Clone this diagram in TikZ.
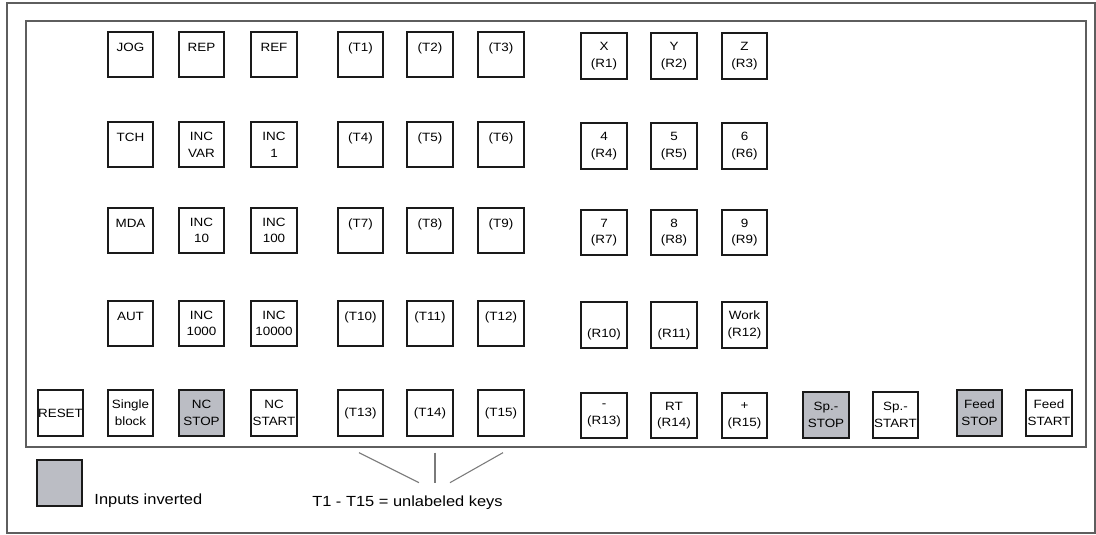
\documentclass[tikz,border=0pt]{standalone}
\usepackage{fontspec}
\setmainfont{Liberation Sans}[FakeStretch=1.12]
\usepackage{tikz}
\usetikzlibrary{calc}
\definecolor{frameline}{HTML}{5E5E5E}
\definecolor{keyline}{HTML}{1A1A1A}
\definecolor{invfill}{HTML}{BBBDC4}
\definecolor{pointline}{HTML}{7A7A7A}
\tikzset{
  keybox/.style={
    rectangle, draw=keyline, line width=1.5pt,
    fill=white, minimum size=34pt, inner sep=0pt,
    align=center, font=\fontsize{9}{12.5}\selectfont
  },
  keyinv/.style={keybox, fill=invfill},
  keyhi/.style={text height=7.5pt, text depth=12.3pt},
  keylo/.style={text height=20.4pt, text depth=2pt},
  notetext/.style={font=\fontsize{11}{13}\selectfont, inner sep=0pt},
  pointer/.style={draw=pointline, line width=0.8pt},
}
\begin{document}
\begin{tikzpicture}[x=0.75pt, y=-0.75pt]
  \useasboundingbox (0,0) rectangle (1096,535);
  \draw[frameline, line width=0.8pt] (7,3) rectangle (1095,533);
  \draw[frameline, line width=1.1pt] (26,21) rectangle (1086,447);

  \node[keybox, keyhi] (jog) at (130.5,54.5) {JOG};
  \node[keybox, keyhi] (rep) at (201.5,54.5) {REP};
  \node[keybox, keyhi] (ref) at (274,54.5) {REF};
  \node[keybox, keyhi] (t1) at (360.5,54.5) {(T1)};
  \node[keybox, keyhi] (t2) at (430,54.5) {(T2)};
  \node[keybox, keyhi] (t3) at (501,54.5) {(T3)};
  \node[keybox] (r1) at (604,56) {X\\(R1)};
  \node[keybox] (r2) at (674,56) {Y\\(R2)};
  \node[keybox] (r3) at (744.5,56) {Z\\(R3)};

  \node[keybox, keyhi] (tch) at (130.5,144.5) {TCH};
  \node[keybox] (incvar) at (201.5,144.5) {INC\\VAR};
  \node[keybox] (inc1) at (274,144.5) {INC\\1};
  \node[keybox, keyhi] (t4) at (360.5,144.5) {(T4)};
  \node[keybox, keyhi] (t5) at (430,144.5) {(T5)};
  \node[keybox, keyhi] (t6) at (501,144.5) {(T6)};
  \node[keybox] (r4) at (604,146) {4\\(R4)};
  \node[keybox] (r5) at (674,146) {5\\(R5)};
  \node[keybox] (r6) at (744.5,146) {6\\(R6)};

  \node[keybox, keyhi] (mda) at (130.5,230.5) {MDA};
  \node[keybox] (inc10) at (201.5,230.5) {INC\\10};
  \node[keybox] (inc100) at (274,230.5) {INC\\100};
  \node[keybox, keyhi] (t7) at (360.5,230.5) {(T7)};
  \node[keybox, keyhi] (t8) at (430,230.5) {(T8)};
  \node[keybox, keyhi] (t9) at (501,230.5) {(T9)};
  \node[keybox] (r7) at (604,232.5) {7\\(R7)};
  \node[keybox] (r8) at (674,232.5) {8\\(R8)};
  \node[keybox] (r9) at (744.5,232.5) {9\\(R9)};

  \node[keybox, keyhi] (aut) at (130.5,323.5) {AUT};
  \node[keybox] (inc1000) at (201.5,323.5) {INC\\1000};
  \node[keybox] (inc10000) at (274,323.5) {INC\\10000};
  \node[keybox, keyhi] (t10) at (360.5,323.5) {(T10)};
  \node[keybox, keyhi] (t11) at (430,323.5) {(T11)};
  \node[keybox, keyhi] (t12) at (501,323.5) {(T12)};
  \node[keybox, keylo] (r10) at (604,325) {(R10)};
  \node[keybox, keylo] (r11) at (674,325) {(R11)};
  \node[keybox] (r12) at (744.5,325) {Work\\(R12)};

  \node[keybox] (reset) at (60.5,413) {RESET};
  \node[keybox] (single) at (130.5,413) {Single\\block};
  \node[keyinv] (ncstop) at (201.5,413) {NC\\STOP};
  \node[keybox] (ncstart) at (274,413) {NC\\START};
  \node[keybox] (t13) at (360.5,413) {(T13)};
  \node[keybox] (t14) at (430,413) {(T14)};
  \node[keybox] (t15) at (501,413) {(T15)};
  \node[keybox] (r13) at (604,415.5) {-\\(R13)};
  \node[keybox] (r14) at (674,415.5) {RT\\(R14)};
  \node[keybox] (r15) at (744.5,415.5) {+\\(R15)};
  \node[keyinv] (spstop) at (826,415) {Sp.-\\STOP};
  \node[keybox] (spstart) at (895.5,415) {Sp.-\\START};
  \node[keyinv] (feedstop) at (979.5,413) {Feed\\STOP};
  \node[keybox] (feedstart) at (1049,413) {Feed\\START};

  \node[keyinv] (legend) at (59.5,483) {};
  \node[notetext, anchor=base west] (invnote) at ($(legend.south east)+(11,-2)$) {Inputs inverted};
  \node[notetext, anchor=base west] (keynote) at (312,506.5) {T1 - T15 = unlabeled keys};
  \coordinate (hub) at ($(t14.south)+(5,46)$);
  \draw[pointer] ($(t13.south)+(-1.5,16)$) -- ($(hub)+(-16,0)$);
  \draw[pointer] ($(t14.south)+(5,16)$) -- (hub);
  \draw[pointer] ($(t15.south)+(2,16)$) -- ($(hub)+(15,0)$);
\end{tikzpicture}
\end{document}
